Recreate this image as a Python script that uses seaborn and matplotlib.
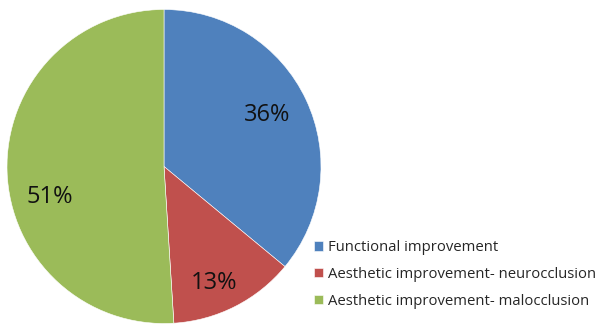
import matplotlib
matplotlib.use("Agg")
import matplotlib.pyplot as plt
import seaborn as sns

# data
labels = ["Functional improvement",
          "Aesthetic improvement- neurocclusion",
          "Aesthetic improvement- malocclusion"]
values = [36, 13, 51]
colors = ["#4F81BD", "#C0504D", "#9BBB59"]

sns.set_theme(style="white")
plt.rcParams['font.family'] = ['Open Sans', 'DejaVu Sans']

fig = plt.figure(figsize=(6.04, 3.24), dpi=100)
ax = fig.add_axes([7 / 604, 0.5 / 324, 314 / 604, 314 / 324])

wedges, texts, autotexts = ax.pie(
    values, colors=colors, startangle=90, counterclock=False,
    autopct=lambda p: f"{p:.0f}%", pctdistance=0.76,
    wedgeprops=dict(edgecolor="white", linewidth=0.4),
    textprops=dict(fontsize=17, color="#111111"))
ax.set_xlim(-1, 1)
ax.set_ylim(-1, 1)
ax.set_aspect("equal")

# label placement like the original (excel style)
label_pos = [(0.66, 0.33), (0.32, -0.74), (-0.73, -0.195)]
for t, p in zip(autotexts, label_pos):
    t.set_position(p)

fig.legend(wedges, labels, loc="center left",
           bbox_to_anchor=(307 / 604, 1 - 274.5 / 324),
           frameon=False, fontsize=10.7, handlelength=0.6, handleheight=0.6,
           handletextpad=0.3, labelspacing=0.8, borderpad=0)

fig.savefig("out.png", dpi=100)
